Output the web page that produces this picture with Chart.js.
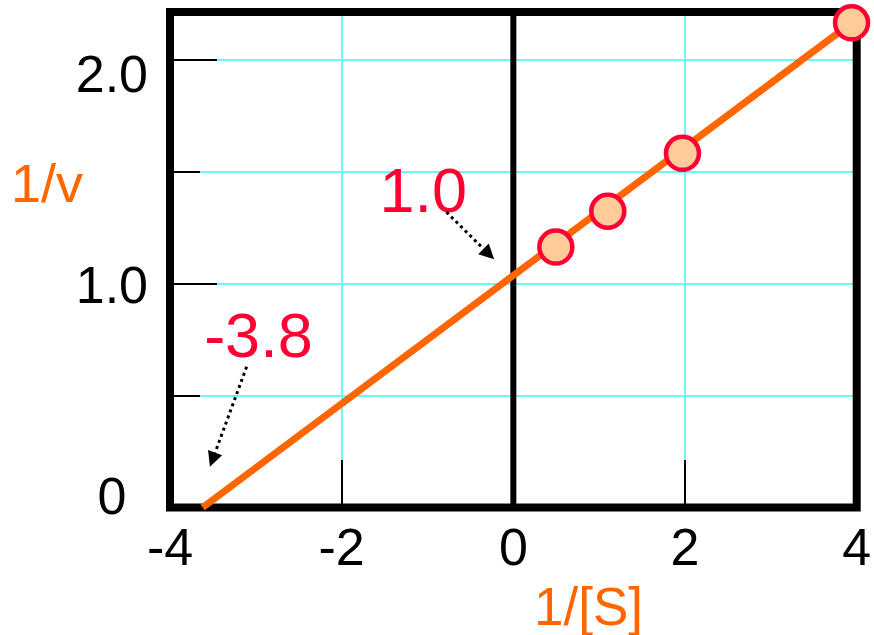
<!DOCTYPE html>
<html>
<head>
<meta charset="utf-8">
<title>Lineweaver-Burk plot</title>
<script src="https://cdn.jsdelivr.net/npm/chart.js@4.4.1/dist/chart.umd.min.js"></script>
<style>
  html, body { margin: 0; padding: 0; background: #fff; }
  #wrap { width: 874px; height: 635px; }
</style>
</head>
<body>
<div id="wrap"><canvas id="c" width="874" height="635"></canvas></div>
<script>
// Lineweaver-Burk: 1/v against 1/[S]

// measured points
const invS = [0.495, 1.10, 1.97, 3.94];
const invV = [1.164, 1.324, 1.583, 2.166];

// fitted straight line (x-intercept to the last point)
const fitX = [-3.62, 3.94];
const fitY = [0, 2.166];

// axes
const xTicks = [-4, -2, 0, 2, 4];
const xTickLabels = ['-4', '-2', '0', '2', '4'];
const xMarks = [-2, 2];                 // short inner ticks on the bottom edge
const yGrid = [0, 0.5, 1, 1.5, 2];
const yLabelValues = [0, 1, 2];
const yLabelTexts = ['0', '1.0', '2.0'];

// red notes with dotted arrows (data coords)
const noteTexts = ['1.0', '-3.8'];
const noteX = [-1.05, -2.97];
const noteY = [1.321, 0.673];
const arrowFromX = [-0.779, -3.107];
const arrowFromY = [1.320, 0.629];
const arrowToX = [-0.224, -3.535];
const arrowToY = [1.109, 0.182];

const FONT = "'Liberation Sans', Arial, sans-serif";
const CYAN = '#6CF8F8';
const ORANGE = '#FF6600';
const RED = '#FF0033';
const PEACH = '#FFCC99';

function arrow(ctx, x1, y1, x2, y2) {
  const ang = Math.atan2(y2 - y1, x2 - x1);
  const head = 15, half = 7.5;
  const bx = x2 - head * Math.cos(ang), by = y2 - head * Math.sin(ang);
  ctx.save();
  ctx.strokeStyle = '#000';
  ctx.lineWidth = 3;
  ctx.setLineDash([3, 3.5]);
  ctx.beginPath();
  ctx.moveTo(x1, y1);
  ctx.lineTo(bx, by);
  ctx.stroke();
  ctx.setLineDash([]);
  ctx.fillStyle = '#000';
  ctx.beginPath();
  ctx.moveTo(x2, y2);
  ctx.lineTo(bx + half * Math.sin(ang), by - half * Math.cos(ang));
  ctx.lineTo(bx - half * Math.sin(ang), by + half * Math.cos(ang));
  ctx.closePath();
  ctx.fill();
  ctx.restore();
}

// no label overhang padding: the frame is placed by layout.padding
function noPad(s) {
  s.paddingTop = 0; s.paddingBottom = 0; s.paddingLeft = 0; s.paddingRight = 0;
}

const framePlugin = {
  id: 'frame',
  beforeDatasetsDraw(chart) {
    const { ctx, chartArea: a, scales: { x, y } } = chart;
    ctx.save();
    ctx.strokeStyle = '#000';
    // short ticks inside the frame
    ctx.lineWidth = 2;
    ctx.beginPath();
    yGrid.forEach((v) => {
      if (v === 0) return;
      const py = Math.round(y.getPixelForValue(v));
      ctx.moveTo(a.left, py);
      ctx.lineTo(a.left + (Number.isInteger(v) ? 47 : 30), py);
    });
    xMarks.forEach((v) => {
      const px = Math.round(x.getPixelForValue(v));
      ctx.moveTo(px, a.bottom);
      ctx.lineTo(px, a.bottom - 47.5);
    });
    ctx.stroke();
    // x = 0 axis
    const x0 = x.getPixelForValue(0);
    ctx.lineWidth = 6;
    ctx.beginPath();
    ctx.moveTo(x0, a.top);
    ctx.lineTo(x0, a.bottom);
    ctx.stroke();
    // frame
    ctx.lineWidth = 8;
    ctx.strokeRect(a.left, a.top, a.right - a.left, a.bottom - a.top);
    ctx.restore();
  },
  afterDatasetsDraw(chart) {
    const { ctx, scales: { x, y } } = chart;
    ctx.save();
    // axis titles
    ctx.fillStyle = ORANGE;
    ctx.textAlign = 'left';
    ctx.textBaseline = 'alphabetic';
    ctx.font = `54px ${FONT}`;
    ctx.fillText('1/v', 11, 202);
    ctx.font = `53px ${FONT}`;
    ctx.fillText('1/[S]', 534, 625);
    // notes
    ctx.fillStyle = RED;
    ctx.textAlign = 'center';
    ctx.font = `63px ${FONT}`;
    noteTexts.forEach((t, i) => {
      ctx.fillText(t, x.getPixelForValue(noteX[i]), y.getPixelForValue(noteY[i]));
    });
    ctx.restore();
    noteTexts.forEach((t, i) => {
      arrow(ctx,
        x.getPixelForValue(arrowFromX[i]), y.getPixelForValue(arrowFromY[i]),
        x.getPixelForValue(arrowToX[i]), y.getPixelForValue(arrowToY[i]));
    });
  },
};

new Chart(document.getElementById('c'), {
  type: 'scatter',
  data: {
    datasets: [
      {
        label: 'data',
        data: invS.map((v, i) => ({ x: v, y: invV[i] })),
        pointRadius: 16.5,
        pointHoverRadius: 16.5,
        pointBorderWidth: 4.5,
        pointBackgroundColor: PEACH,
        pointBorderColor: RED,
        clip: false,
      },
      {
        label: 'fit',
        type: 'line',
        data: fitX.map((v, i) => ({ x: v, y: fitY[i] })),
        borderColor: ORANGE,
        borderWidth: 7,
        pointRadius: 0,
        fill: false,
        clip: false,
      },
    ],
  },
  options: {
    responsive: false,
    animation: false,
    devicePixelRatio: 1,
    layout: { autoPadding: false, padding: { top: 12, right: 17.3, left: 0, bottom: 0 } },
    plugins: { legend: { display: false }, tooltip: { enabled: false } },
    scales: {
      x: {
        type: 'linear',
        position: 'bottom',
        min: -4,
        max: 4,
        afterBuildTicks: (s) => { s.ticks = xTicks.map((v) => ({ value: v })); },
        afterFit: (s) => { s.height = 127.5; noPad(s); },
        grid: { color: CYAN, lineWidth: 2, drawTicks: false },
        border: { display: false },
        ticks: {
          color: '#000',
          font: { family: FONT, size: 52 },
          padding: 12,
          maxRotation: 0,
          autoSkip: false,
          callback: (v, i) => xTickLabels[i],
        },
      },
      y: {
        type: 'linear',
        position: 'left',
        weight: 0,
        min: 0,
        max: 2.2145,
        afterBuildTicks: (s) => { s.ticks = yGrid.map((v) => ({ value: v })); },
        afterFit: (s) => { s.width = 0; noPad(s); },
        grid: { color: CYAN, lineWidth: 2, drawTicks: false },
        border: { display: false },
        ticks: { display: false },
      },
      // label-only axis: the printed y labels sit a little off the grid lines
      yLab: {
        type: 'linear',
        position: 'left',
        weight: 1,
        min: -0.0355,
        max: 2.3128,
        afterBuildTicks: (s) => { s.ticks = yLabelValues.map((v) => ({ value: v })); },
        afterFit: (s) => { s.width = 170; noPad(s); },
        grid: { display: false, drawTicks: false },
        border: { display: false },
        ticks: {
          color: '#000',
          font: { family: FONT, size: 52 },
          crossAlign: 'center',
          padding: 22,
          callback: (v, i) => yLabelTexts[i],
        },
      },
    },
  },
  plugins: [framePlugin],
});
</script>
</body>
</html>
